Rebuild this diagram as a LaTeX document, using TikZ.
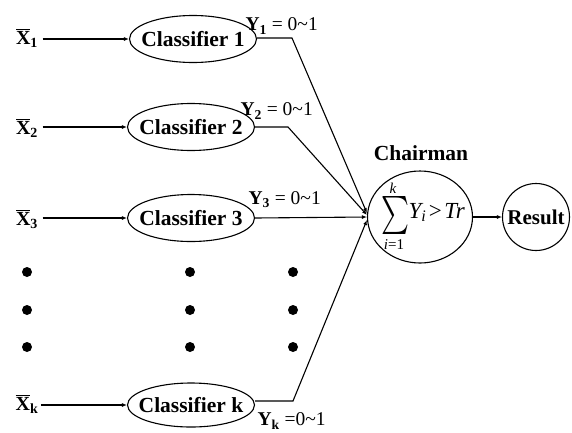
\documentclass[tikz,border=0pt]{standalone}
\usepackage{fontspec}
\setmainfont{Liberation Serif}
\usetikzlibrary{shapes.geometric,arrows.meta}
\newcommand\ovlx[1]{\vbox{\hrule height 1pt\kern1.6pt\hbox{#1}}}
\newcommand\tld{\char"007E\relax}
\begin{document}
\begin{tikzpicture}[x=1pt,y=-1pt,
  line width=1.1pt,
  cls/.style={draw,ellipse,minimum width=127pt,minimum height=47pt,inner sep=0pt,
    label={[font=\fontsize{21.5}{21.5}\selectfont\bfseries,inner sep=0pt]center:#1}},
  xlab/.style={font=\fontsize{20}{20}\selectfont\bfseries,inner sep=0pt},
  ylab/.style={font=\fontsize{19.5}{19.5}\selectfont,inner sep=0pt,anchor=west},
  mth/.style={inner sep=0pt,font=\fontsize{23}{23}\selectfont\itshape},
  arr/.style={-{Latex[length=5pt,width=4pt]}},
  dotp/.style={circle,fill,inner sep=0pt,minimum size=10pt}]
\useasboundingbox (0,0) rectangle (572,432);
% classifiers
\node[cls={Classifier 1}] (c1) at (193,39) {};
\node[cls={Classifier 2}] (c2) at (191,127) {};
\node[cls={Classifier 3}] (c3) at (191,218) {};
\node[cls={Classifier k},minimum height=44pt] (ck) at (191,405) {};
% inputs
\node[xlab] (x1) at (27,38) {\ovlx{X}\textsubscript{1}};
\node[xlab] (x2) at (27,128) {\ovlx{X}\textsubscript{2}};
\node[xlab] (x3) at (27,219) {\ovlx{X}\textsubscript{3}};
\node[xlab] (xk) at (27,404) {\ovlx{X}\textsubscript{k}};
\draw[arr] (x1.east|-c1.west) ++(4,0) -- (c1.west);
\draw[arr] (x2.east|-c2.west) ++(4,0) -- (c2.west);
\draw[arr] (x3.east|-c3.west) ++(4,0) -- (c3.west);
\draw[arr] (xk.east|-ck.west) ++(2,0) -- (ck.west);
% chairman and result
\node[draw,ellipse,minimum width=105pt,minimum height=92pt,inner sep=0pt] (ch) at (420,217) {};
\node[inner sep=0pt] (sig) at (395,215) {\resizebox*{28pt}{38pt}{$\sum$}};
\node[mth,anchor=base west] (yi) at (408,218) {Y\textsubscript{i}\kern2.5pt\upshape>\kern2.5pt\itshape Tr};
\node[inner sep=0pt,font=\fontsize{15}{15}\selectfont\itshape] (kk) at (393,188) {k};
\node[inner sep=0pt,font=\fontsize{15}{15}\selectfont] (i1) at (394,245) {\textit{i}=1};
\node[font=\fontsize{21.5}{21.5}\selectfont\bfseries,inner sep=0pt] (chl) at (421,153) {Chairman};
\node[draw,circle,minimum size=67pt,inner sep=0pt,font=\fontsize{21}{21}\selectfont\bfseries] (res) at (536,217) {Result};
\draw[arr] (ch.east) -- (res.west);
% outputs
\coordinate (b1) at (292,38);
\coordinate (b2) at (288,127);
\coordinate (bk) at (293,401);
\draw[arr] (c1.east|-b1) -- (b1) -- ([yshift=4pt]ch.west);
\draw[arr] (c2.east|-b2) -- (b2) -- ([yshift=2pt]ch.west);
\draw[arr] (c3.east) -- (ch.west);
\draw[arr] (ck.east|-bk) -- (bk) -- ([yshift=-3pt]ch.west);
% output labels
\node[ylab] (y1) at (245,26) {\textbf{Y\textsubscript{1}} = 0\tld 1};
\node[ylab] (y2) at (240,111) {\textbf{Y\textsubscript{2}} = 0\tld 1};
\node[ylab] (y3) at (248,200) {\textbf{Y\textsubscript{3}} = 0\tld 1};
\node[ylab] (yk) at (257,421) {\textbf{Y\textsubscript{k}} =0\tld 1};
% dots
\foreach \yy [count=\i] in {272,310,347}{
  \node[dotp] (da\i) at (27,\yy) {};
  \node[dotp] (db\i) at (190,\yy) {};
  \node[dotp] (dc\i) at (293,\yy) {};
}
\end{tikzpicture}
\end{document}
